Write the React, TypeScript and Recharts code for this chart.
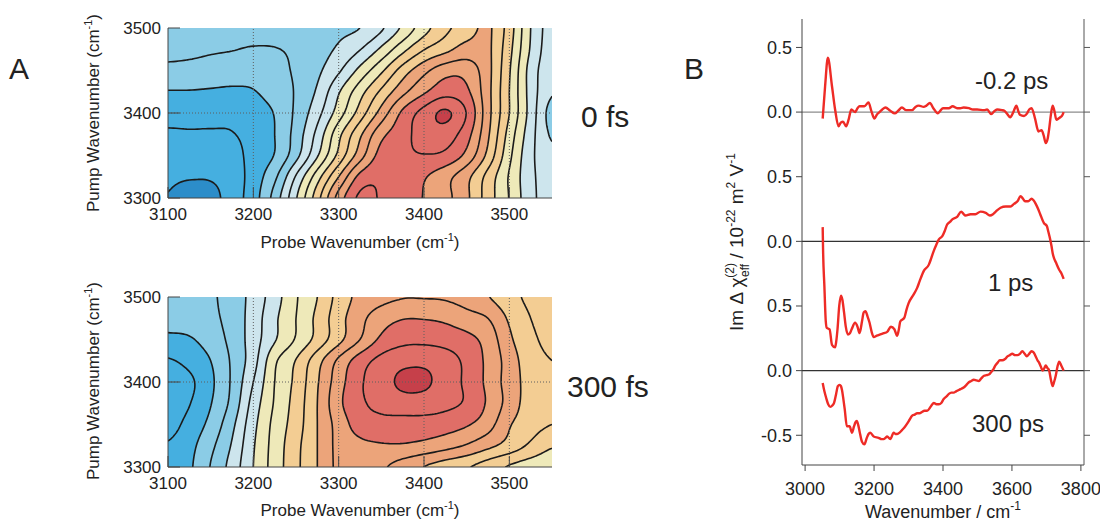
import React from 'react';
import { ComposedChart, Line, Scatter, XAxis, YAxis } from 'recharts';

const FONT = '"Liberation Sans", Arial, Helvetica, sans-serif';

// ---- panel A: 2D spectra, contour level read at each grid node ----
const PROBE_CM = [3100, 3125, 3150, 3175, 3200, 3225, 3250, 3275, 3300, 3325, 3350, 3375, 3400, 3425, 3450, 3475, 3500, 3525, 3550];
const PUMP_CM = [3500, 3475, 3450, 3425, 3400, 3375, 3350, 3325, 3300];

const FIELD_0FS = [
  [3.8, 3.75, 3.7, 3.6, 3.6, 3.5, 3.55, 3.65, 3.8, 4.0, 4.85, 6.2, 7.6, 8.75, 9.5, 10.15, 8.5, 6.0, 4.5],
  [3.4, 3.3, 3.15, 3.05, 2.9, 2.95, 3.2, 3.6, 4.15, 4.95, 6.2, 7.67, 8.95, 9.7, 10.4, 10.2, 8.3, 5.9, 4.4],
  [2.7, 2.65, 2.55, 2.45, 2.4, 2.65, 3.15, 3.8, 4.85, 6.3, 7.8, 9.45, 10.7, 11.6, 11.6, 10.3, 8.1, 5.6, 4.3],
  [1.95, 1.95, 1.9, 1.85, 1.95, 2.4, 3.1, 4.15, 5.9, 7.6, 9.2, 10.7, 11.85, 12.6, 12.2, 10.3, 8.0, 5.6, 4.1],
  [1.4, 1.35, 1.3, 1.3, 1.6, 2.05, 3.2, 4.65, 6.5, 8.45, 10.4, 12.2, 13.35, 14.15, 12.95, 10.35, 8.0, 5.6, 3.6],
  [0.85, 0.9, 0.9, 0.95, 1.4, 2.0, 3.4, 5.3, 7.7, 9.8, 11.7, 12.6, 13.45, 13.5, 12.4, 10.15, 7.6, 5.4, 3.85],
  [0.5, 0.5, 0.5, 0.6, 1.4, 2.05, 3.67, 5.9, 8.3, 10.55, 12.4, 12.8, 12.95, 12.75, 11.7, 9.7, 7.25, 5.25, 4.3],
  [0.2, 0.1, 0.1, 0.45, 1.46, 2.78, 5.1, 7.55, 10.0, 12.3, 12.9, 12.7, 12.1, 11.35, 10.3, 8.65, 6.9, 5.25, 4.5],
  [-0.05, -0.6, -0.35, 0.5, 1.55, 3.4, 5.9, 8.6, 11.4, 13.2, 12.9, 12.5, 11.95, 11.3, 10.2, 8.5, 6.95, 5.3, 4.5],
];

const FIELD_300FS = [
  [2.5, 2.6, 2.85, 3.45, 4.35, 5.55, 6.9, 8.0, 9.35, 10.3, 10.7, 10.95, 10.95, 10.9, 10.6, 10.05, 9.33, 8.8, 8.6],
  [2.3, 2.45, 2.75, 3.4, 4.45, 5.8, 7.0, 8.25, 9.6, 10.7, 11.55, 11.95, 11.95, 11.8, 11.4, 11.0, 9.85, 9.0, 8.7],
  [1.8, 1.9, 2.45, 3.3, 4.5, 5.9, 7.1, 8.35, 9.7, 11.0, 12.2, 12.7, 12.75, 12.6, 12.3, 11.6, 10.2, 9.2, 8.8],
  [0.9, 1.3, 2.0, 3.15, 4.6, 6.8, 8.05, 9.6, 11.2, 12.5, 13.3, 13.7, 13.75, 13.45, 12.75, 11.75, 10.55, 9.4, 9.0],
  [0.4, 0.8, 1.8, 3.15, 5.0, 7.0, 8.25, 9.9, 11.55, 12.85, 13.55, 14.2, 14.2, 13.5, 12.8, 11.75, 10.55, 9.6, 9.2],
  [0.3, 0.95, 1.95, 3.3, 5.4, 7.1, 8.4, 10.0, 11.75, 12.8, 13.3, 13.55, 13.5, 13.25, 12.85, 11.85, 10.6, 9.5, 9.1],
  [0.6, 1.35, 2.3, 3.75, 5.7, 7.3, 8.5, 10.0, 11.4, 12.45, 12.65, 12.6, 12.6, 12.45, 12.1, 11.4, 10.1, 9.4, 9.0],
  [1.1, 1.7, 2.75, 4.1, 5.9, 7.4, 8.7, 10.0, 11.3, 11.75, 11.9, 11.9, 11.7, 11.35, 10.9, 10.25, 9.6, 8.8, 8.1],
  [1.4, 1.85, 3.05, 4.4, 6.0, 7.45, 8.75, 10.0, 11.25, 11.5, 11.15, 10.55, 9.98, 9.5, 9.1, 8.5, 7.9, 7.5, 7.3],
];

const CONTOUR_LEVELS = [0, 1, 2, 3, 4, 5, 6, 7, 8, 9, 10, 11, 12, 13, 14];
// colour of each band, from below level 0 up to above level 14
const BAND_COLORS = [
  '#2c8dc9', '#45afe0', '#45afe0', '#8bcce6', '#8bcce6', '#cde5ed', '#cde5ed', '#eee9b9',
  '#eee9b9', '#f3cd93', '#f3cd93', '#eca47a', '#eca47a', '#e06e67', '#e06e67', '#c6404a',
];
const PROBE_TICKS = [3100, 3200, 3300, 3400, 3500];
const PUMP_TICKS = [3300, 3400, 3500];
const GRID_PROBE = [3200, 3300, 3400, 3500];
const GRID_PUMP = [3400];

// ---- panel B: spectra ----
const WN_M02 = [3051, 3058, 3066, 3078, 3087, 3097, 3104, 3110, 3119, 3127, 3134, 3145, 3152, 3158, 3172, 3184, 3192, 3201, 3208, 3216, 3224, 3233, 3247, 3260, 3270, 3281, 3293, 3310, 3320, 3330, 3344, 3352, 3362, 3372, 3385, 3392, 3400, 3417, 3428, 3441, 3450, 3460, 3475, 3487, 3499, 3519, 3528, 3540, 3550, 3558, 3571, 3578, 3585, 3595, 3604, 3613, 3618, 3623, 3635, 3644, 3650, 3657, 3667, 3677, 3686, 3692, 3698, 3704, 3708, 3713, 3718, 3723, 3729, 3735, 3740, 3745, 3750];
const IM_M02 = [-0.05, 0.2, 0.42, 0.2, 0.02, -0.11, -0.08, -0.075, -0.11, -0.05, 0.02, 0.0, 0.03, 0.045, 0.045, 0.075, 0.01, -0.05, -0.02, 0.0, 0.02, 0.035, 0.01, -0.01, 0.01, 0.035, 0.015, 0.015, 0.04, 0.05, 0.04, 0.05, 0.07, 0.03, -0.01, 0.01, 0.03, 0.03, 0.045, 0.03, 0.03, 0.035, 0.03, 0.02, 0.02, 0.015, 0.02, -0.015, 0.01, 0.02, 0.015, 0.01, -0.01, -0.04, 0.0, 0.05, 0.01, -0.02, -0.03, -0.01, 0.02, 0.03, -0.05, -0.15, -0.14, -0.18, -0.24, -0.2, -0.13, -0.02, 0.05, 0.01, -0.06, -0.05, -0.04, -0.03, 0.0];

const WN_1PS = [3051, 3052, 3056, 3060, 3063, 3071, 3078, 3087, 3090, 3094, 3099, 3104, 3108, 3113, 3118, 3124, 3130, 3135, 3145, 3152, 3158, 3165, 3170, 3175, 3181, 3187, 3193, 3199, 3208, 3218, 3228, 3238, 3249, 3259, 3267, 3272, 3276, 3288, 3294, 3300, 3315, 3325, 3332, 3344, 3359, 3366, 3373, 3380, 3388, 3398, 3405, 3412, 3420, 3427, 3441, 3453, 3460, 3465, 3480, 3494, 3509, 3524, 3536, 3545, 3553, 3567, 3582, 3596, 3606, 3616, 3625, 3632, 3638, 3647, 3657, 3662, 3669, 3676, 3682, 3693, 3701, 3706, 3711, 3715, 3718, 3722, 3727, 3737, 3744, 3750];
const IM_1PS = [0.11, -0.05, -0.35, -0.62, -0.67, -0.68, -0.8, -0.82, -0.78, -0.68, -0.5, -0.42, -0.45, -0.55, -0.66, -0.72, -0.71, -0.68, -0.63, -0.66, -0.71, -0.62, -0.55, -0.54, -0.58, -0.63, -0.7, -0.74, -0.73, -0.72, -0.71, -0.7, -0.66, -0.68, -0.73, -0.68, -0.62, -0.59, -0.53, -0.48, -0.41, -0.36, -0.31, -0.23, -0.18, -0.13, -0.075, -0.03, 0.015, 0.04, 0.08, 0.13, 0.15, 0.17, 0.19, 0.23, 0.21, 0.2, 0.21, 0.21, 0.23, 0.22, 0.2, 0.21, 0.23, 0.26, 0.27, 0.27, 0.29, 0.31, 0.35, 0.33, 0.31, 0.31, 0.33, 0.32, 0.29, 0.25, 0.21, 0.14, 0.12, 0.07, 0.015, -0.04, -0.09, -0.13, -0.16, -0.22, -0.25, -0.29];

const WN_300PS = [3051, 3056, 3061, 3067, 3073, 3079, 3084, 3090, 3095, 3100, 3104, 3107, 3111, 3115, 3121, 3129, 3136, 3142, 3146, 3150, 3154, 3158, 3165, 3172, 3179, 3184, 3189, 3199, 3213, 3222, 3228, 3233, 3238, 3247, 3257, 3262, 3267, 3274, 3281, 3288, 3296, 3303, 3310, 3318, 3325, 3332, 3339, 3346, 3354, 3364, 3373, 3381, 3388, 3395, 3402, 3410, 3417, 3424, 3431, 3438, 3446, 3453, 3460, 3468, 3475, 3482, 3489, 3497, 3504, 3511, 3519, 3526, 3533, 3540, 3546, 3552, 3558, 3565, 3572, 3580, 3587, 3594, 3601, 3609, 3616, 3623, 3630, 3637, 3643, 3650, 3657, 3663, 3669, 3674, 3679, 3684, 3689, 3694, 3698, 3703, 3708, 3713, 3718, 3722, 3727, 3732, 3737, 3743, 3750];
const IM_300PS = [-0.095, -0.16, -0.21, -0.26, -0.28, -0.27, -0.25, -0.18, -0.12, -0.11, -0.12, -0.15, -0.22, -0.3, -0.43, -0.43, -0.48, -0.43, -0.4, -0.39, -0.42, -0.47, -0.55, -0.57, -0.52, -0.49, -0.48, -0.51, -0.52, -0.53, -0.53, -0.52, -0.51, -0.53, -0.48, -0.49, -0.49, -0.48, -0.46, -0.44, -0.41, -0.38, -0.35, -0.34, -0.33, -0.33, -0.32, -0.31, -0.31, -0.28, -0.25, -0.26, -0.26, -0.25, -0.22, -0.2, -0.18, -0.17, -0.17, -0.16, -0.15, -0.14, -0.13, -0.11, -0.09, -0.08, -0.07, -0.075, -0.08, -0.06, -0.04, -0.035, -0.03, -0.01, 0.01, 0.04, 0.06, 0.08, 0.08, 0.09, 0.11, 0.12, 0.13, 0.12, 0.12, 0.13, 0.15, 0.13, 0.11, 0.13, 0.15, 0.14, 0.11, 0.08, 0.06, 0.03, 0.0, 0.02, 0.04, 0.02, 0.0, -0.07, -0.12, -0.09, -0.04, 0.03, 0.07, 0.04, 0.0];

const OFFSET_M02 = 2;
const OFFSET_1PS = 1;
const OFFSET_300PS = 0;
const B_YTICKS = [-0.5, 0, 0.5, 1, 1.5, 2, 2.5];
const B_YLABELS = ['-0.5', '0.0', '0.5', '0.0', '0.5', '0.0', '0.5'];
const B_XTICKS = [3000, 3200, 3400, 3600, 3800];

// ---- layout of panel A charts ----
const A_W = 570;
const A_H = 260;
const A_MARGIN = { top: 28, right: 18, bottom: 32, left: 108 };
const A_YAXIS_W = 60;
const A_XAXIS_H = 30;
const PLOT_W = A_W - A_MARGIN.left - A_YAXIS_W - A_MARGIN.right;
const PLOT_H = A_H - A_MARGIN.top - A_MARGIN.bottom - A_XAXIS_H;
const X0 = PROBE_CM[0];
const X1 = PROBE_CM[PROBE_CM.length - 1];
const Y0 = PUMP_CM[0];
const Y1 = PUMP_CM[PUMP_CM.length - 1];
const CM_PER_PX = (X1 - X0) / PLOT_W;

const cubic = (p0: number, p1: number, p2: number, p3: number, t: number) =>
  0.5 * (2 * p1 + (-p0 + p2) * t + (2 * p0 - 5 * p1 + 4 * p2 - p3) * t * t + (-p0 + 3 * p1 - 3 * p2 + p3) * t * t * t);

// smooth (Catmull-Rom) reading of the grid between its nodes
function sample(field: number[][], x: number, y: number) {
  const nx = PROBE_CM.length;
  const ny = PUMP_CM.length;
  const fx = (x - X0) / (PROBE_CM[1] - PROBE_CM[0]);
  const fy = (y - Y0) / (PUMP_CM[1] - PUMP_CM[0]);
  const j = Math.min(Math.max(Math.floor(fx), 0), nx - 2);
  const i = Math.min(Math.max(Math.floor(fy), 0), ny - 2);
  const tx = fx - j;
  const ty = fy - i;
  const cj = (k: number) => Math.min(Math.max(k, 0), nx - 1);
  const ci = (k: number) => Math.min(Math.max(k, 0), ny - 1);
  const rows = [-1, 0, 1, 2].map((di) => {
    const r = field[ci(i + di)];
    return cubic(r[cj(j - 1)], r[cj(j)], r[cj(j + 1)], r[cj(j + 2)], tx);
  });
  return cubic(rows[0], rows[1], rows[2], rows[3], ty);
}

const bandOf = (v: number) => Math.max(-1, Math.min(14, Math.floor(v)));

// horizontal runs of one colour band, one pixel row at a time
function fillRuns(field: number[][]) {
  const runs: { x: number; y: number; w: number; color: string }[] = [];
  const dy = (Y0 - Y1) / PLOT_H;
  for (let r = 0; r < PLOT_H; r++) {
    const y = Y0 - (r + 0.5) * dy;
    let start = 0;
    let band = bandOf(sample(field, X0 + 0.5 * CM_PER_PX, y));
    for (let c = 1; c <= PLOT_W; c++) {
      const b = c < PLOT_W ? bandOf(sample(field, X0 + (c + 0.5) * CM_PER_PX, y)) : 99;
      if (b !== band) {
        const xa = X0 + start * CM_PER_PX;
        const xb = X0 + c * CM_PER_PX;
        runs.push({ x: (xa + xb) / 2, y, w: xb - xa, color: BAND_COLORS[band + 1] });
        start = c;
        band = b;
      }
    }
  }
  return runs;
}

type Pt = { x: number; y: number };

// marching squares on a finer grid
function isolines(field: number[][], level: number): Pt[][] {
  const K = 8;
  const gx: number[] = [];
  const gy: number[] = [];
  for (let j = 0; j <= (PROBE_CM.length - 1) * K; j++) gx.push(X0 + (j * (PROBE_CM[1] - PROBE_CM[0])) / K);
  for (let i = 0; i <= (PUMP_CM.length - 1) * K; i++) gy.push(Y0 + (i * (PUMP_CM[1] - PUMP_CM[0])) / K);
  const v = gy.map((y) => gx.map((x) => sample(field, x, y)));
  const pts = new Map<string, Pt>();
  const segs: [string, string][] = [];

  const hEdge = (i: number, j: number) => {
    const k = `h${i}_${j}`;
    if (!pts.has(k)) {
      const a = v[i][j], b = v[i][j + 1];
      const t = (level - a) / (b - a);
      pts.set(k, { x: gx[j] + t * (gx[j + 1] - gx[j]), y: gy[i] });
    }
    return k;
  };
  const vEdge = (i: number, j: number) => {
    const k = `v${i}_${j}`;
    if (!pts.has(k)) {
      const a = v[i][j], b = v[i + 1][j];
      const t = (level - a) / (b - a);
      pts.set(k, { x: gx[j], y: gy[i] + t * (gy[i + 1] - gy[i]) });
    }
    return k;
  };

  for (let i = 0; i < gy.length - 1; i++) {
    for (let j = 0; j < gx.length - 1; j++) {
      const a = v[i][j], b = v[i][j + 1], c = v[i + 1][j + 1], d = v[i + 1][j];
      const idx = (a > level ? 8 : 0) | (b > level ? 4 : 0) | (c > level ? 2 : 0) | (d > level ? 1 : 0);
      if (idx === 0 || idx === 15) continue;
      const T = () => hEdge(i, j);
      const B = () => hEdge(i + 1, j);
      const L = () => vEdge(i, j);
      const R = () => vEdge(i, j + 1);
      const center = (a + b + c + d) / 4 > level;
      switch (idx) {
        case 1: case 14: segs.push([L(), B()]); break;
        case 2: case 13: segs.push([B(), R()]); break;
        case 3: case 12: segs.push([L(), R()]); break;
        case 4: case 11: segs.push([T(), R()]); break;
        case 6: case 9: segs.push([T(), B()]); break;
        case 7: case 8: segs.push([T(), L()]); break;
        case 5:
          if (center) { segs.push([T(), L()]); segs.push([B(), R()]); }
          else { segs.push([T(), R()]); segs.push([L(), B()]); }
          break;
        case 10:
          if (center) { segs.push([T(), R()]); segs.push([L(), B()]); }
          else { segs.push([T(), L()]); segs.push([B(), R()]); }
          break;
      }
    }
  }

  const adj = new Map<string, number[]>();
  segs.forEach(([p, q], n) => {
    if (!adj.has(p)) adj.set(p, []);
    if (!adj.has(q)) adj.set(q, []);
    adj.get(p)!.push(n);
    adj.get(q)!.push(n);
  });
  const used = segs.map(() => false);
  const walk = (startKey: string) => {
    const line: Pt[] = [pts.get(startKey)!];
    let key = startKey;
    for (;;) {
      const n = adj.get(key)!.find((s) => !used[s]);
      if (n === undefined) break;
      used[n] = true;
      const [p, q] = segs[n];
      key = p === key ? q : p;
      line.push(pts.get(key)!);
    }
    return line;
  };
  const lines: Pt[][] = [];
  adj.forEach((list, k) => {
    if (list.length === 1 && !used[list[0]]) lines.push(walk(k));
  });
  segs.forEach((s, n) => {
    if (!used[n]) lines.push(walk(s[0]));
  });
  return lines.filter((l) => l.length > 1);
}

const CellShape = (p: any) => {
  const w = p.payload.w / CM_PER_PX;
  return (
    <rect
      x={p.cx - w / 2}
      y={p.cy - 0.5}
      width={w + 0.6}
      height={1.3}
      fill={p.payload.color}
      shapeRendering="crispEdges"
    />
  );
};

const aTick = { fill: '#222', fontSize: 17, fontFamily: FONT };

const ContourPanel = ({ field, top }: { field: number[][]; top: number }) => {
  const cells = React.useMemo(() => fillRuns(field), [field]);
  const lines = React.useMemo(() => CONTOUR_LEVELS.flatMap((l) => isolines(field, l)), [field]);
  const scatterZ: any = { zIndex: 50 };
  return (
    <div style={{ position: 'absolute', left: 0, top, width: A_W, height: A_H }}>
      <ComposedChart width={A_W} height={A_H} margin={A_MARGIN}>
        <Scatter data={cells} dataKey="y" shape={CellShape} isAnimationActive={false} {...scatterZ} />
        {lines.map((pts, k) => (
          <Line
            key={`c${k}`}
            data={pts}
            dataKey="y"
            type="linear"
            stroke="#1b1b1b"
            strokeWidth={1.6}
            dot={false}
            activeDot={false}
            isAnimationActive={false}
          />
        ))}
        {GRID_PROBE.map((g) => (
          <Line
            key={`gx${g}`}
            data={[{ x: g, y: Y1 }, { x: g, y: Y0 }]}
            dataKey="y"
            stroke="#5e5e5e"
            strokeWidth={1}
            strokeDasharray="1 2"
            dot={false}
            activeDot={false}
            isAnimationActive={false}
          />
        ))}
        {GRID_PUMP.map((g) => (
          <Line
            key={`gy${g}`}
            data={[{ x: X0, y: g }, { x: X1, y: g }]}
            dataKey="y"
            stroke="#5e5e5e"
            strokeWidth={1}
            strokeDasharray="1 2"
            dot={false}
            activeDot={false}
            isAnimationActive={false}
          />
        ))}
        <XAxis
          type="number"
          dataKey="x"
          domain={[X0, X1]}
          ticks={PROBE_TICKS}
          interval={0}
          allowDataOverflow
          height={A_XAXIS_H}
          tickSize={-11}
          tickMargin={21}
          stroke="#444"
          tick={aTick}
        />
        <XAxis xAxisId="top" orientation="top" type="number" domain={[X0, X1]} allowDataOverflow height={0} tick={false} tickLine={false} stroke="#444" />
        <YAxis
          type="number"
          dataKey="y"
          domain={[Y1, Y0]}
          ticks={PUMP_TICKS}
          interval={0}
          allowDataOverflow
          width={A_YAXIS_W}
          tickSize={-12}
          tickMargin={19}
          stroke="#444"
          tick={aTick}
        />
        <YAxis yAxisId="right" orientation="right" type="number" domain={[Y1, Y0]} allowDataOverflow width={0} tick={false} tickLine={false} stroke="#444" />
      </ComposedChart>
    </div>
  );
};

const toPoints = (wn: number[], im: number[], offset: number) => wn.map((x, i) => ({ x, y: im[i] + offset }));
const B_DOMAIN_X: [number, number] = [2991, 3809];
const B_DOMAIN_Y: [number, number] = [-0.73, 2.72];
const bTick = { fill: '#222', fontSize: 18, fontFamily: FONT };

const SpectraPanel = () => {
  const traces = [
    toPoints(WN_M02, IM_M02, OFFSET_M02),
    toPoints(WN_1PS, IM_1PS, OFFSET_1PS),
    toPoints(WN_300PS, IM_300PS, OFFSET_300PS),
  ];
  const zeros = [OFFSET_M02, OFFSET_1PS, OFFSET_300PS];
  return (
    <div style={{ position: 'absolute', left: 700, top: 0, width: 400, height: 522 }}>
      <ComposedChart width={400} height={522} margin={{ top: 19, right: 10, bottom: 17, left: 42 }}>
        {zeros.map((z) => (
          <Line
            key={`z${z}`}
            data={[{ x: B_DOMAIN_X[0], y: z }, { x: B_DOMAIN_X[1], y: z }]}
            dataKey="y"
            stroke={z === OFFSET_M02 ? '#8c8c8c' : '#333'}
            strokeWidth={1.2}
            dot={false}
            activeDot={false}
            isAnimationActive={false}
          />
        ))}
        {traces.map((t, k) => (
          <Line
            key={`t${k}`}
            data={t}
            dataKey="y"
            type="monotone"
            stroke="#ee2b26"
            strokeWidth={2.4}
            dot={false}
            activeDot={false}
            isAnimationActive={false}
          />
        ))}
        <XAxis
          type="number"
          dataKey="x"
          domain={B_DOMAIN_X}
          ticks={B_XTICKS}
          interval={0}
          allowDataOverflow
          height={40}
          tickSize={6}
          tickMargin={11}
          stroke="#444"
          tick={bTick}
        />
        <XAxis xAxisId="top" orientation="top" type="number" domain={B_DOMAIN_X} allowDataOverflow height={0} tick={false} tickLine={false} stroke="#555" />
        <YAxis
          type="number"
          dataKey="y"
          domain={B_DOMAIN_Y}
          ticks={B_YTICKS}
          interval={0}
          allowDataOverflow
          width={60}
          tickSize={6}
          tickMargin={4}
          stroke="#444"
          tick={bTick}
          tickFormatter={(v: number) => B_YLABELS[B_YTICKS.indexOf(v)] ?? ''}
        />
        <YAxis
          yAxisId="right"
          orientation="right"
          type="number"
          domain={B_DOMAIN_Y}
          ticks={B_YTICKS}
          interval={0}
          allowDataOverflow
          width={6}
          tickSize={6}
          tickMargin={0}
          stroke="#555"
          tick={bTick}
          tickFormatter={() => ''}
        />
      </ComposedChart>
    </div>
  );
};

const Labels = () => (
  <svg
    width={1100}
    height={522}
    style={{ position: 'absolute', left: 0, top: 0, pointerEvents: 'none' }}
    fontFamily={FONT}
    fill="#222"
  >
    <text x={9} y={79} fontSize={30}>A</text>
    <text x={684} y={79} fontSize={30}>B</text>
    <text x={581} y={127} fontSize={30}>0 fs</text>
    <text x={567} y={397} fontSize={30}>300 fs</text>
    <text x={975} y={89} fontSize={24}>-0.2 ps</text>
    <text x={988} y={291} fontSize={24}>1 ps</text>
    <text x={972} y={432} fontSize={24}>300 ps</text>

    <text x={360} y={248} fontSize={17} textAnchor="middle">
      Probe Wavenumber (cm<tspan fontSize={11} dy={-7}>-1</tspan><tspan dy={7}>)</tspan>
    </text>
    <text x={360} y={516} fontSize={17} textAnchor="middle">
      Probe Wavenumber (cm<tspan fontSize={11} dy={-7}>-1</tspan><tspan dy={7}>)</tspan>
    </text>
    <text transform="translate(99,113) rotate(-90)" fontSize={17} textAnchor="middle">
      Pump Wavenumber (cm<tspan fontSize={11} dy={-7}>-1</tspan><tspan dy={7}>)</tspan>
    </text>
    <text transform="translate(99,381) rotate(-90)" fontSize={17} textAnchor="middle">
      Pump Wavenumber (cm<tspan fontSize={11} dy={-7}>-1</tspan><tspan dy={7}>)</tspan>
    </text>

    <text x={943} y={518} fontSize={18} textAnchor="middle">
      Wavenumber / cm<tspan fontSize={12} dy={-8}>-1</tspan>
    </text>
    <text transform="translate(743,242) rotate(-90)" fontSize={19} textAnchor="middle">
      Im Δ χ<tspan fontSize={12} dy={-9}>(2)</tspan>
      <tspan fontSize={12} dx={-14} dy={15}>eff</tspan>
      <tspan dy={-6}> / 10</tspan>
      <tspan fontSize={12} dy={-8}>-22</tspan>
      <tspan dy={8}> m</tspan>
      <tspan fontSize={12} dy={-8}>2</tspan>
      <tspan dy={8}> V</tspan>
      <tspan fontSize={12} dy={-8}>-1</tspan>
    </text>
  </svg>
);

export default function App() {
  return (
    <div style={{ position: 'absolute', left: 0, top: 0, width: 1100, height: 522, background: '#fff', overflow: 'hidden' }}>
      <ContourPanel field={FIELD_0FS} top={0} />
      <ContourPanel field={FIELD_300FS} top={269} />
      <SpectraPanel />
      <Labels />
    </div>
  );
}
